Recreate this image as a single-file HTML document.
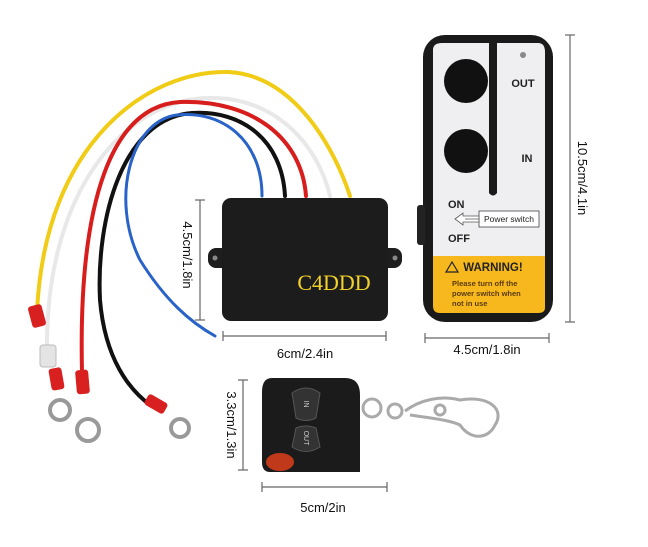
<!DOCTYPE html>
<html><head><style>
html,body{margin:0;padding:0;background:#fff;}
svg{display:block;font-family:"Liberation Sans",sans-serif;}
</style></head><body>
<svg width="648" height="547" viewBox="0 0 648 547" xmlns="http://www.w3.org/2000/svg">
<rect width="648" height="547" fill="#fff"/>
<!-- wires -->
<g fill="none" stroke-linecap="round">
<path d="M350,196 C335,150 295,75 228,72 C150,70 45,140 37,312" stroke="#f1cc16" stroke-width="4"/>
<path d="M330,196 C318,145 275,95 205,98 C125,102 45,190 47,352" stroke="#e8e8e8" stroke-width="4"/>
<path d="M306,196 C302,140 255,100 180,102 C112,106 78,200 82,372" stroke="#d81d1d" stroke-width="4"/>
<path d="M285,196 C282,140 242,110 192,113 C122,118 96,220 100,300 C105,360 130,390 150,405" stroke="#111" stroke-width="4"/>
<path d="M262,196 C262,140 222,110 177,115 C130,121 110,200 140,260 C165,300 190,322 215,336" stroke="#2a63c8" stroke-width="3"/>
</g>
<!-- crimps and rings -->
<rect x="30" y="305" width="14" height="22" rx="3" fill="#d82020" transform="rotate(-15 37 316)"/>
<rect x="40" y="345" width="16" height="22" rx="3" fill="#e4e4e4" stroke="#bbb"/>
<rect x="50" y="368" width="13" height="22" rx="3" fill="#d82020" transform="rotate(-10 56 379)"/>
<circle cx="60" cy="410" r="10" fill="none" stroke="#999" stroke-width="4"/>
<rect x="76" y="370" width="13" height="24" rx="3" fill="#d82020" transform="rotate(-5 82 382)"/>
<circle cx="88" cy="430" r="11" fill="none" stroke="#999" stroke-width="4"/>
<rect x="145" y="398" width="22" height="12" rx="3" fill="#d82020" transform="rotate(30 156 404)"/>
<circle cx="180" cy="428" r="9" fill="none" stroke="#999" stroke-width="4"/>
<!-- receiver box -->
<rect x="208" y="248" width="194" height="20" rx="8" fill="#1e1e1e"/>
<circle cx="215" cy="258" r="2.5" fill="#888"/><circle cx="395" cy="258" r="2.5" fill="#888"/>
<rect x="222" y="198" width="166" height="123" rx="9" fill="#1c1c1c"/>
<text x="334" y="290" text-anchor="middle" font-family="'Liberation Serif',serif" font-size="22" fill="#f2d22a">C4DDD</text>
<!-- dims receiver -->
<g stroke="#666" stroke-width="1.2">
<line x1="200" y1="200" x2="200" y2="320"/><line x1="195" y1="200" x2="205" y2="200"/><line x1="195" y1="320" x2="205" y2="320"/>
<line x1="223" y1="336" x2="386" y2="336"/><line x1="223" y1="331" x2="223" y2="341"/><line x1="386" y1="331" x2="386" y2="341"/>
<line x1="570" y1="35" x2="570" y2="322"/><line x1="565" y1="35" x2="575" y2="35"/><line x1="565" y1="322" x2="575" y2="322"/>
<line x1="425" y1="338" x2="549" y2="338"/><line x1="425" y1="333" x2="425" y2="343"/><line x1="549" y1="333" x2="549" y2="343"/>
<line x1="243" y1="380" x2="243" y2="470"/><line x1="238" y1="380" x2="248" y2="380"/><line x1="238" y1="470" x2="248" y2="470"/>
<line x1="262" y1="487" x2="387" y2="487"/><line x1="262" y1="482" x2="262" y2="492"/><line x1="387" y1="482" x2="387" y2="492"/>
</g>
<g font-size="13" fill="#111">
<text x="0" y="0" transform="translate(183,255) rotate(90)" text-anchor="middle">4.5cm/1.8in</text>
<text x="305" y="358" text-anchor="middle">6cm/2.4in</text>
<text x="0" y="0" transform="translate(578,178) rotate(90)" text-anchor="middle">10.5cm/4.1in</text>
<text x="487" y="354" text-anchor="middle">4.5cm/1.8in</text>
<text x="0" y="0" transform="translate(227,425) rotate(90)" text-anchor="middle">3.3cm/1.3in</text>
<text x="323" y="512" text-anchor="middle">5cm/2in</text>
</g>
<!-- big remote -->
<rect x="423" y="35" width="130" height="287" rx="22" fill="#1a1a1a"/>
<rect x="417" y="205" width="8" height="40" rx="3" fill="#222"/>
<path d="M433,50 Q433,43 442,43 L538,43 Q545,43 545,52 L545,256 L433,256 Z" fill="#efeff1"/>
<path d="M433,256 L545,256 L545,308 Q545,313 538,313 L440,313 Q433,313 433,306 Z" fill="#f6b81c"/>
<path d="M489,43 L497,43 L497,193 Q493,198 489,193 Z" fill="#1a1a1a"/>
<circle cx="466" cy="81" r="22" fill="#111"/>
<circle cx="466" cy="151" r="22" fill="#111"/>
<circle cx="523" cy="55" r="3" fill="#888"/>
<g font-size="11" font-weight="bold" fill="#222">
<text x="523" y="87" text-anchor="middle">OUT</text>
<text x="527" y="162" text-anchor="middle">IN</text>
<text x="448" y="208">ON</text>
<text x="448" y="242">OFF</text>
</g>
<rect x="479" y="211" width="60" height="16" fill="#fff" stroke="#444" stroke-width="0.8"/>
<text x="509" y="222" text-anchor="middle" font-size="8.5" fill="#222">Power switch</text>
<path d="M479,219 L465,219 M455,219 L463,213 L463,216 L479,216 L479,222 L463,222 L463,225 Z" fill="#fff" stroke="#555" stroke-width="0.8"/>
<path d="M458,272 L452,262 L446,272 Z" fill="none" stroke="#222" stroke-width="1.2"/>
<text x="493" y="271" text-anchor="middle" font-size="11.5" font-weight="bold" fill="#222">WARNING!</text>
<g font-size="7.5" font-weight="bold" fill="#5a3a10">
<text x="452" y="286">Please turn off the</text>
<text x="452" y="296">power switch when</text>
<text x="452" y="306">not  in use</text>
</g>
<!-- keyring -->
<g fill="none" stroke="#aaa" stroke-width="3">
<circle cx="372" cy="408" r="9"/>
<circle cx="395" cy="411" r="7"/>
<path d="M405,411 C420,400 440,395 460,400 C490,395 505,410 495,425 C488,440 470,440 460,425 C450,420 430,418 410,415"/>
<circle cx="440" cy="410" r="5"/>
</g>
<!-- fob -->
<path d="M272,378 L345,378 Q360,378 360,395 L360,472 L270,472 Q262,472 262,462 L262,392 Q262,378 272,378 Z" fill="#1b1b1b"/>
<path d="M292,393 Q306,383 320,393 L316,418 Q306,423 296,418 Z" fill="#333" stroke="#555"/>
<path d="M296,428 Q306,424 316,428 L320,447 Q306,456 292,447 Z" fill="#333" stroke="#555"/>
<text x="306" y="406" font-size="7" fill="#ccc" text-anchor="middle" transform="rotate(90 306 404)">IN</text>
<text x="306" y="440" font-size="7" fill="#ccc" text-anchor="middle" transform="rotate(90 306 438)">OUT</text>
<ellipse cx="280" cy="462" rx="14" ry="9" fill="#c0391b"/>
</svg>
</body></html>
